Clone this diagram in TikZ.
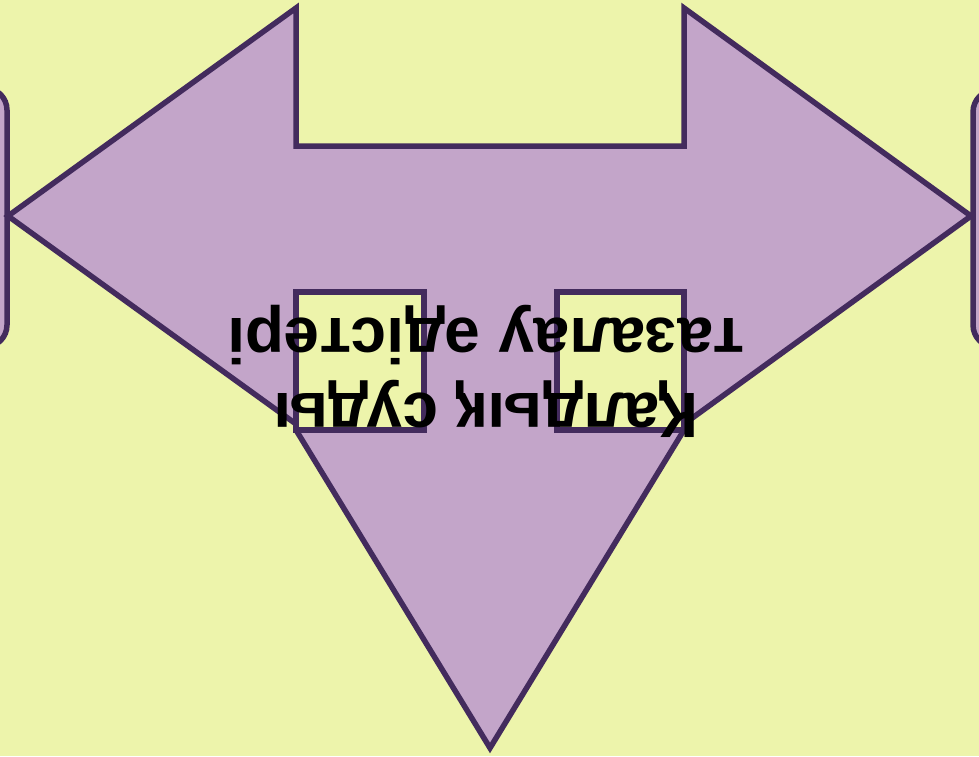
\documentclass[tikz,border=0pt]{standalone}
\usepackage{fontspec}
\setmainfont{Liberation Sans}
\definecolor{bgc}{HTML}{EDF4AB}
\definecolor{fillc}{HTML}{C3A5C9}
\definecolor{linec}{HTML}{432B5D}
\tikzset{
  shapeline/.style={draw=linec, line width=5.5pt, fill=fillc, line join=miter},
  holebox/.style={draw=linec, line width=5.5pt, fill=bgc},
  labeltext/.style={font=\fontsize{64}{75}\selectfont\bfseries, text=black, align=center, rotate=180, inner sep=0pt}
}
\begin{document}
\begin{tikzpicture}[x=1pt,y=-1pt]
\fill[bgc] (0,0) rectangle (979,756);
\useasboundingbox (0,0) rectangle (979,756);
\begin{scope}
\clip (0,0) rectangle (979,756);
\draw[shapeline, rounded corners=22pt] (-60,88) rectangle (7,347);
\draw[shapeline, rounded corners=22pt] (973,90) rectangle (1040,347);
\end{scope}
\draw[shapeline] (8,216) -- (296,8) -- (296,146) -- (684,146) -- (684,8) -- (971,216)
  -- (684,424) -- (684,430) -- (490,748) -- (296,430) -- (296,424) -- cycle;
\draw[holebox] (296,292) rectangle (424,430);
\draw[holebox] (557,292) rectangle (684,430);
\node[labeltext] (lbl) at (486,371) {Қалдық суды\\тазалау әдістері};
\end{tikzpicture}
\end{document}
